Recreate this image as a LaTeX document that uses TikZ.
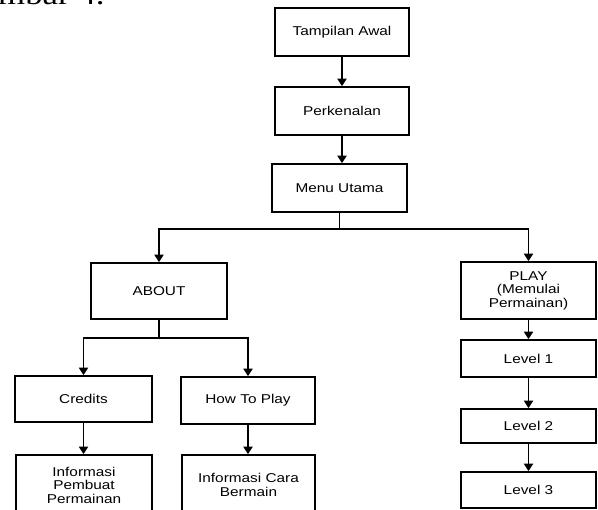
\documentclass[tikz,border=0pt]{standalone}
\usepackage{fontspec}
\setmainfont{Liberation Sans}[FakeStretch=1.2]
\newfontfamily\serifwide{Liberation Serif}[FakeStretch=1.2]
\usetikzlibrary{arrows.meta}
\begin{document}
\begin{tikzpicture}[x=1pt,y=-1pt,
  box/.style={draw,line width=1.6pt,inner sep=0pt,align=center,
    font=\fontsize{12.8}{13.5}\selectfont},
  conn/.style={line width=1.8pt},
  arr/.style={conn,-{Triangle[width=9pt,length=7.5pt]}}]
\useasboundingbox (0,0) rectangle (598,510);
\clip (0,0) rectangle (598,510);
\node[anchor=base west,inner sep=0pt,font=\serifwide\fontsize{29}{29}\selectfont] (cap) at (-2,5) {mbar 4.};
% main column
\node[box,minimum width=134pt,minimum height=48pt] (tamp) at (342,32) {Tampilan Awal};
\node[box,minimum width=134pt,minimum height=48pt] (perk) at (342,111) {Perkenalan};
\node[box,minimum width=135pt,minimum height=48pt] (menu) at (339.5,188) {Menu Utama};
% about branch
\node[box,minimum width=136pt,minimum height=56pt] (about) at (159,291) {ABOUT};
\node[box,minimum width=137pt,minimum height=46pt] (credits) at (83.5,399) {Credits};
\node[box,minimum width=134pt,minimum height=47pt] (howto) at (248,400.5) {How To Play};
\node[box,minimum width=136pt,minimum height=60pt] (infop) at (84,485) {Informasi\\Pembuat\\Permainan};
\node[box,minimum width=133pt,minimum height=60pt] (infoc) at (248.5,485) {Informasi Cara\\Bermain};
% play branch
\node[box,minimum width=135pt,minimum height=57pt] (play) at (528.5,290.5) {PLAY\\(Memulai\\Permainan)};
\node[box,minimum width=135pt,minimum height=37pt] (lv1) at (528.5,358.5) {Level 1};
\node[box,minimum width=135pt,minimum height=34pt] (lv2) at (528.5,426) {Level 2};
\node[box,minimum width=135pt,minimum height=36pt] (lv3) at (528.5,490) {Level 3};
% junctions
\coordinate (j1) at (339.5,229);
\coordinate (j2) at (159,338);
% connectors
\draw[arr] (tamp.south) -- (tamp.south |- perk.north);
\draw[arr] (perk.south) -- (perk.south |- menu.north);
\draw[conn] (menu.south) -- (j1);
\draw[arr] (j1) -| (about.north);
\draw[arr] (j1) -| (play.north);
\draw[conn] (about.south) -- (j2);
\draw[arr] (j2) -| (credits.north);
\draw[arr] (j2) -| (howto.north);
\draw[arr] (credits.south) -- (credits.south |- infop.north);
\draw[arr] (howto.south) -- (howto.south |- infoc.north);
\draw[arr] (play.south) -- (lv1.north);
\draw[arr] (lv1.south) -- (lv2.north);
\draw[arr] (lv2.south) -- (lv3.north);
\end{tikzpicture}
\end{document}
